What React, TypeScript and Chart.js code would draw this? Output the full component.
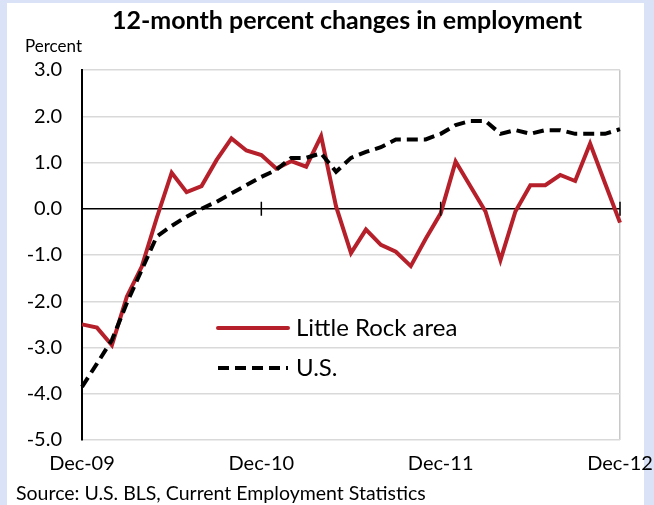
import React, { useEffect, useRef } from "react";
import { Chart, registerables } from "chart.js";

Chart.register(...registerables);

const months: string[] = [
  "Dec-09", "Jan-10", "Feb-10", "Mar-10", "Apr-10", "May-10", "Jun-10", "Jul-10", "Aug-10", "Sep-10", "Oct-10", "Nov-10",
  "Dec-10", "Jan-11", "Feb-11", "Mar-11", "Apr-11", "May-11", "Jun-11", "Jul-11", "Aug-11", "Sep-11", "Oct-11", "Nov-11",
  "Dec-11", "Jan-12", "Feb-12", "Mar-12", "Apr-12", "May-12", "Jun-12", "Jul-12", "Aug-12", "Sep-12", "Oct-12", "Nov-12",
  "Dec-12",
];

const tickLabels: string[] = ["Dec-09", "Dec-10", "Dec-11", "Dec-12"];

const littleRock: number[] = [
  -2.5, -2.57, -2.95, -1.9, -1.25, -0.2, 0.78, 0.36, 0.49, 1.05, 1.52, 1.26,
  1.16, 0.87, 1.03, 0.91, 1.57, 0.05, -0.96, -0.45, -0.78, -0.93, -1.24, -0.65,
  -0.1, 1.02, 0.48, -0.06, -1.11, -0.06, 0.51, 0.51, 0.73, 0.6, 1.41, 0.55,
  -0.3,
];

const us: number[] = [
  -3.85, -3.35, -2.84, -2.04, -1.32, -0.6, -0.37, -0.17, 0.0, 0.15, 0.33, 0.51,
  0.69, 0.84, 1.1, 1.1, 1.2, 0.8, 1.1, 1.23, 1.33, 1.5, 1.5, 1.5,
  1.62, 1.81, 1.9, 1.9, 1.62, 1.7, 1.62, 1.7, 1.7, 1.62, 1.62, 1.62,
  1.72,
];

const titleText = "12-month percent changes in employment";
const unitText = "Percent";
const sourceText = "Source: U.S. BLS, Current Employment Statistics";
const seriesNames = ["Little Rock area", "U.S."];

const FONT = "Lato, 'Liberation Sans', sans-serif";
const RED = "#b5202a";
const GRID = "#d9d9d9";

const decorPlugin = {
  id: "decor",
  beforeDraw(chart: any) {
    const ctx = chart.ctx;
    ctx.save();
    ctx.fillStyle = "#d9e2f6";
    ctx.fillRect(0, 0, chart.width, chart.height);
    ctx.fillStyle = "#ffffff";
    ctx.fillRect(7, 3, 637, chart.height - 3);
    ctx.restore();
  },
  afterDraw(chart: any) {
    const ctx = chart.ctx;
    const xs = chart.scales.x;
    const ys = chart.scales.y;
    const y0 = ys.getPixelForValue(0);
    ctx.save();
    // tick marks on zero line
    ctx.strokeStyle = "#000";
    ctx.lineWidth = 1.5;
    tickLabels.slice(1).forEach((lab) => {
      const x = xs.getPixelForValue(months.indexOf(lab));
      ctx.beginPath();
      ctx.moveTo(x, y0 - 7);
      ctx.lineTo(x, y0 + 7);
      ctx.stroke();
    });
    // title
    ctx.fillStyle = "#000";
    ctx.textAlign = "center";
    ctx.textBaseline = "middle";
    ctx.font = `bold 25px ${FONT}`;
    ctx.fillText(titleText, 347, 21);
    ctx.textAlign = "left";
    ctx.font = `17px ${FONT}`;
    ctx.fillText(unitText, 25, 47);
    ctx.font = `19.5px ${FONT}`;
    ctx.fillText(sourceText, 16, 494);
    // legend
    const lx0 = 218, lx1 = 288;
    const rows = [328, 368];
    chart.data.datasets.forEach((ds: any) => {
      const idx = seriesNames.indexOf(ds.label);
      const y = rows[idx];
      ctx.beginPath();
      ctx.strokeStyle = ds.borderColor;
      ctx.lineWidth = ds.borderWidth;
      ctx.setLineDash(ds.borderDash || []);
      ctx.lineCap = ds.borderDash ? "butt" : "round";
      ctx.moveTo(lx0, y);
      ctx.lineTo(lx1, y);
      ctx.stroke();
      ctx.setLineDash([]);
      ctx.fillStyle = "#000";
      ctx.font = `24px ${FONT}`;
      ctx.textBaseline = "middle";
      ctx.fillText(ds.label, 296, y);
    });
    ctx.restore();
  },
};

export default function App() {
  const ref = useRef<HTMLCanvasElement | null>(null);
  useEffect(() => {
    if (!ref.current) return;
    const chart = new Chart(ref.current, {
      type: "line",
      data: {
        labels: months,
        datasets: [
          {
            label: seriesNames[1],
            data: us,
            borderColor: "#000000",
            borderWidth: 4,
            borderDash: [11, 6],
            pointRadius: 0,
            tension: 0,
            fill: false,
            order: 0,
          },
          {
            label: seriesNames[0],
            data: littleRock,
            borderColor: RED,
            borderWidth: 4,
            pointRadius: 0,
            tension: 0,
            fill: false,
            order: 1,
          },
        ],
      },
      options: {
        responsive: false,
        animation: false,
        devicePixelRatio: 1,
        layout: { padding: { left: 0, right: 34, top: 70, bottom: 0 } },
        plugins: {
          legend: { display: false },
          title: { display: false },
          tooltip: { enabled: false },
        },
        scales: {
          x: {
            type: "category",
            offset: false,
            afterFit: (s: any) => {
              s.height = 65;
              s.paddingLeft = 0;
              s.paddingRight = 0;
            },
            border: { display: false },
            grid: {
              drawTicks: false,
              color: (c: any) => (c.index === months.length - 1 ? "#c8c8c8" : "rgba(0,0,0,0)"),
              lineWidth: 1.5,
            },
            ticks: {
              autoSkip: false,
              maxRotation: 0,
              padding: 12,
              color: "#000",
              font: { family: FONT, size: 20 },
              callback: (v: any, i: number) => (tickLabels.includes(months[i]) ? months[i] : ""),
            },
          },
          y: {
            min: -5,
            max: 3,
            afterFit: (s: any) => {
              s.width = 82;
              s.paddingTop = 0;
              s.paddingBottom = 0;
            },
            border: { display: true, color: "#000", width: 2 },
            grid: {
              drawTicks: false,
              color: (c: any) => (c.tick && c.tick.value === 0 ? "#000000" : GRID),
              lineWidth: 1.5,
            },
            ticks: {
              stepSize: 1,
              padding: 20,
              color: "#000",
              font: { family: FONT, size: 20 },
              callback: (v: any) => Number(v).toFixed(1),
            },
          },
        },
      },
      plugins: [decorPlugin],
    });
    return () => chart.destroy();
  }, []);
  return (
    <div style={{ position: "absolute", left: 0, top: 0, width: 654, height: 505 }}>
      <canvas ref={ref} width={654} height={505} />
    </div>
  );
}
